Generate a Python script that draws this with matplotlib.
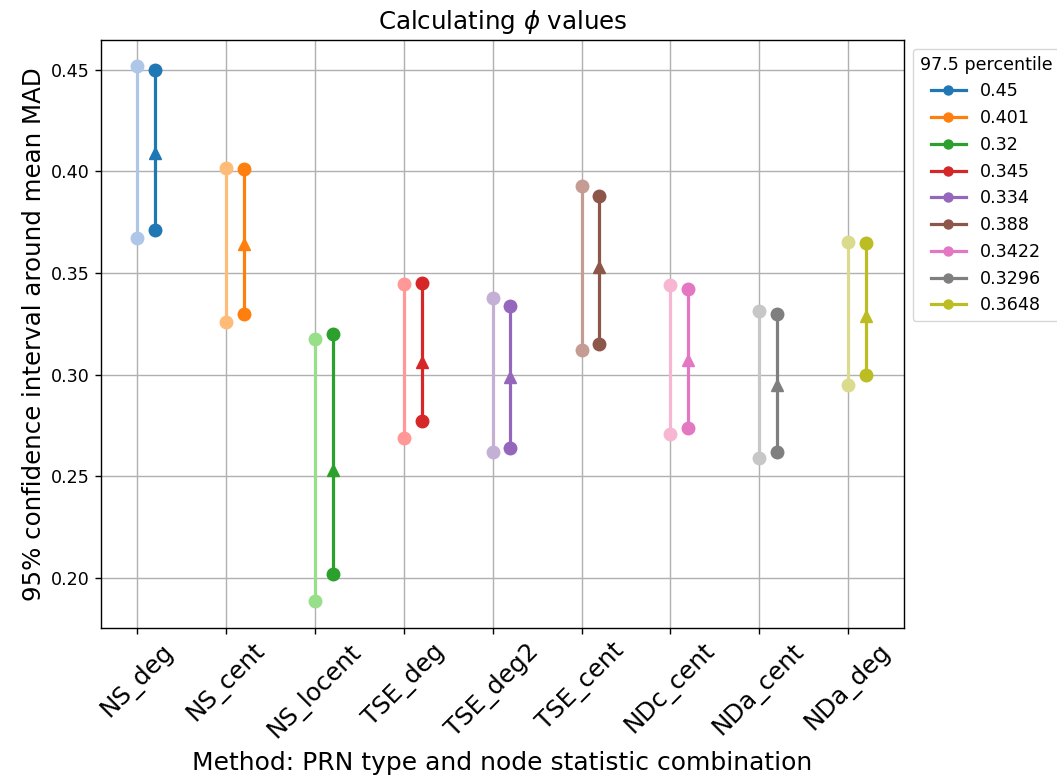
import matplotlib
matplotlib.use("Agg")
import matplotlib.pyplot as plt
import numpy as np

categories = ['NS_deg', 'NS_cent', 'NS_locent', 'TSE_deg', 'TSE_deg2',
              'TSE_cent', 'NDc_cent', 'NDa_cent', 'NDa_deg']
light_low = [0.367, 0.326, 0.189, 0.269, 0.262, 0.312, 0.271, 0.259, 0.295]
light_high = [0.4515, 0.4015, 0.3175, 0.3445, 0.3375, 0.3925, 0.344, 0.3315, 0.365]
dark_low = [0.371, 0.330, 0.202, 0.277, 0.264, 0.315, 0.274, 0.262, 0.300]
dark_mean = [0.409, 0.364, 0.253, 0.306, 0.299, 0.353, 0.307, 0.295, 0.329]
dark_high = [0.45, 0.401, 0.32, 0.345, 0.334, 0.388, 0.3422, 0.3296, 0.3648]
legend_labels = ['0.45', '0.401', '0.32', '0.345', '0.334', '0.388', '0.3422', '0.3296', '0.3648']

s = 1.26
W, H = 1057, 781
fig = plt.figure(figsize=(W / 100, H / 100), dpi=100)
ax = fig.add_axes([101 / W, 1 - 628 / H, (904 - 101) / W, (628 - 40) / H])

tab10 = plt.get_cmap('tab10').colors
tab20 = plt.get_cmap('tab20').colors
lw = 2.3
ms = 9
off = 0.2
for i, cat in enumerate(categories):
    dark = tab10[i]
    light = tab20[2 * i + 1]
    ax.plot([i, i], [light_low[i], light_high[i]], color=light, marker='o',
            lw=lw, ms=ms, zorder=3)
    ax.plot([i + off, i + off], [dark_low[i], dark_high[i]], color=dark, marker='o',
            lw=lw, ms=ms, zorder=4, label=legend_labels[i])
    ax.plot([i + off], [dark_mean[i]], color=dark, marker='^', ms=ms, zorder=5)

ax.set_xticks(range(len(categories)))
ax.set_xticklabels(categories, rotation=45, fontsize=14 * s)
ax.set_xlim(-0.41, 8.63)
ax.set_ylim(0.1755, 0.4645)
ax.set_yticks([0.20, 0.25, 0.30, 0.35, 0.40, 0.45])
ax.tick_params(axis='y', labelsize=10 * s, length=3.5 * s, width=0.8 * s)
ax.tick_params(axis='x', length=3.5 * s, width=0.8 * s)
ax.grid(True, color='#b0b0b0', lw=0.8 * s)
ax.set_axisbelow(True)
for sp in ax.spines.values():
    sp.set_linewidth(0.8 * s)

ax.set_title(r'Calculating $\phi$ values', fontsize=14 * s, pad=6 * s)
ax.set_ylabel('95% confidence interval around mean MAD', fontsize=14 * s)
ax.set_xlabel('Method: PRN type and node statistic combination', fontsize=14.3 * s,
              labelpad=6)

ax.legend(title='97.5 percentile', loc='upper left', bbox_to_anchor=(1.0, 1.0),
          fontsize=10 * s, title_fontsize=10 * s, markerscale=0.72)

fig.savefig('out.png', dpi=100)
